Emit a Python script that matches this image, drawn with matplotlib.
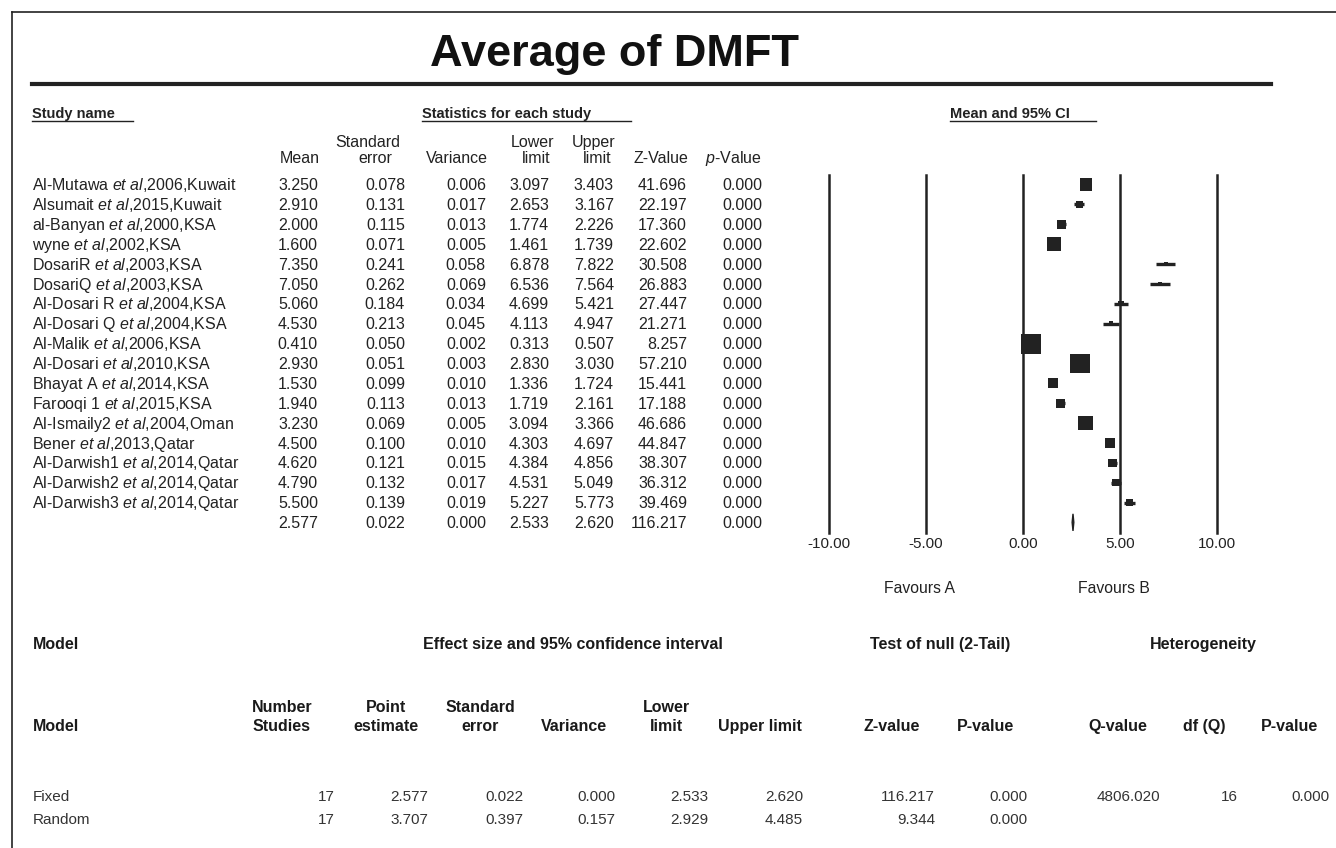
import matplotlib.pyplot as plt
from matplotlib.patches import Polygon

plt.rcParams['font.family'] = ['Liberation Sans', 'DejaVu Sans']
plt.rcParams['mathtext.fontset'] = 'custom'
plt.rcParams['mathtext.rm'] = 'Liberation Sans'
plt.rcParams['mathtext.it'] = 'Liberation Sans:italic'

# study-level data
studies = [
    ("Al-Mutawa", ",2006,Kuwait"), ("Alsumait", ",2015,Kuwait"), ("al-Banyan", ",2000,KSA"),
    ("wyne", ",2002,KSA"), ("DosariR", ",2003,KSA"), ("DosariQ", ",2003,KSA"),
    ("Al-Dosari R", ",2004,KSA"), ("Al-Dosari Q", ",2004,KSA"), ("Al-Malik", ",2006,KSA"),
    ("Al-Dosari", ",2010,KSA"), ("Bhayat A", ",2014,KSA"), ("Farooqi 1", ",2015,KSA"),
    ("Al-Ismaily2", ",2004,Oman"), ("Bener", ",2013,Qatar"), ("Al-Darwish1", ",2014,Qatar"),
    ("Al-Darwish2", ",2014,Qatar"), ("Al-Darwish3", ",2014,Qatar"),
]
means = [3.250, 2.910, 2.000, 1.600, 7.350, 7.050, 5.060, 4.530, 0.410, 2.930, 1.530, 1.940,
         3.230, 4.500, 4.620, 4.790, 5.500]
std_err = [0.078, 0.131, 0.115, 0.071, 0.241, 0.262, 0.184, 0.213, 0.050, 0.051, 0.099, 0.113,
           0.069, 0.100, 0.121, 0.132, 0.139]
variance = [0.006, 0.017, 0.013, 0.005, 0.058, 0.069, 0.034, 0.045, 0.002, 0.003, 0.010, 0.013,
            0.005, 0.010, 0.015, 0.017, 0.019]
lower = [3.097, 2.653, 1.774, 1.461, 6.878, 6.536, 4.699, 4.113, 0.313, 2.830, 1.336, 1.719,
         3.094, 4.303, 4.384, 4.531, 5.227]
upper = [3.403, 3.167, 2.226, 1.739, 7.822, 7.564, 5.421, 4.947, 0.507, 3.030, 1.724, 2.161,
         3.366, 4.697, 4.856, 5.049, 5.773]
z_values = [41.696, 22.197, 17.360, 22.602, 30.508, 26.883, 27.447, 21.271, 8.257, 57.210,
            15.441, 17.188, 46.686, 44.847, 38.307, 36.312, 39.469]
p_values = [0.000] * 17

# pooled (fixed) estimate
pooled = dict(mean=2.577, se=0.022, var=0.000, lo=2.533, hi=2.620, z=116.217, p=0.000)

# model summary table
models = ["Fixed", "Random"]
model_n = [17, 17]
model_point = [2.577, 3.707]
model_se = [0.022, 0.397]
model_var = [0.000, 0.157]
model_lo = [2.533, 2.929]
model_hi = [2.620, 4.485]
model_z = [116.217, 9.344]
model_p = [0.000, 0.000]
het_q, het_df, het_p = 4806.020, 16, 0.000

ticks = [-10, -5, 0, 5, 10]

W, H = 1336, 848
fig = plt.figure(figsize=(W / 100, H / 100), dpi=100)
ink = '#222222'

# pixel-space overlay for text and rules
tx = fig.add_axes([0, 0, 1, 1])
tx.set_xlim(0, W)
tx.set_ylim(H, 0)
tx.axis('off')


def put(x, y, s, fontsize, **kw):
    # y is the visual middle of the capitals; draw on the baseline below it
    off = 0.716 * fontsize * 100 / 72 / 2
    tx.text(x, y + off, s, fontsize=fontsize, va='baseline', **kw)


# frame
tx.plot([12, W], [12, 12], color=ink, lw=1.2)
tx.plot([12, 12], [12, H], color=ink, lw=1.2)

put(614, 50, "Average of DMFT", 32.5, fontweight='bold', ha='center', color='#111111')
tx.plot([32, 1271], [84, 84], color=ink, lw=3)

fs = 11.5
hdr = dict(fontweight='bold', ha='left', color=ink)
put(32, 113, "Study name", 10.5, **hdr)
tx.plot([32, 133], [121, 121], color=ink, lw=1)
put(422, 113, "Statistics for each study", 10.5, **hdr)
tx.plot([422, 631], [121, 121], color=ink, lw=1)
put(950, 113, "Mean and 95% CI", 10.5, **hdr)
tx.plot([950, 1096], [121, 121], color=ink, lw=1)

# column headers
y1, y2 = 141, 157
put(320, y2, "Mean", fs, ha='right', color=ink)
put(368, y1, "Standard", fs, ha='center', color=ink)
put(375, y2, "error", fs, ha='center', color=ink)
put(488, y2, "Variance", fs, ha='right', color=ink)
put(533, y1, "Lower", fs, ha='center', color=ink)
put(536, y2, "limit", fs, ha='center', color=ink)
put(594, y1, "Upper", fs, ha='center', color=ink)
put(597, y2, "limit", fs, ha='center', color=ink)
put(688, y2, "Z-Value", fs, ha='right', color=ink)
put(762, y2, r"$\it{p}$" + "-Value", fs, ha='right', color=ink)

col_right = [318, 405, 486, 549, 614, 687, 762]
row0, dy = 184.5, 19.875
for i, (name, rest) in enumerate(studies):
    y = row0 + i * dy
    put(32, y, name + r" $\it{et\ al}$" + rest, fs, ha='left', color=ink)
    vals = [means[i], std_err[i], variance[i], lower[i], upper[i], z_values[i], p_values[i]]
    for xr, v in zip(col_right, vals):
        put(xr, y, f"{v:.3f}", fs, ha='right', color=ink)
y = row0 + len(studies) * dy
for xr, v in zip(col_right, [pooled['mean'], pooled['se'], pooled['var'], pooled['lo'],
                             pooled['hi'], pooled['z'], pooled['p']]):
    put(xr, y, f"{v:.3f}", fs, ha='right', color=ink)

# forest plot axes
px_l, px_r, px_t, px_b = 829, 1217, 175, 533
ax = fig.add_axes([px_l / W, 1 - px_b / H, (px_r - px_l) / W, (px_b - px_t) / H])
ax.set_xlim(ticks[0], ticks[-1])
ax.set_ylim((px_b - row0) / dy, (px_t - row0) / dy)
for s in ax.spines.values():
    s.set_visible(False)
ax.set_yticks([])
ax.set_xticks(ticks)
ax.set_xticklabels([f"{t:.2f}" for t in ticks], fontsize=11, color=ink)
ax.tick_params(axis='x', length=0, pad=3)
ax.patch.set_alpha(0)
for t in ticks:
    ax.axvline(t, color=ink, lw=1.8, clip_on=False)

rows = list(range(len(studies)))
ax.hlines(rows, lower, upper, color=ink, lw=2.4)
sizes = [(0.72 / se) ** 2 for se in std_err]
ax.scatter(means, rows, marker='s', s=sizes, color=ink, zorder=3, linewidths=0)
r = len(studies)
diamond = Polygon([(pooled['lo'], r), (pooled['mean'], r - 0.43), (pooled['hi'], r),
                   (pooled['mean'], r + 0.43)], closed=True, color=ink)
ax.add_patch(diamond)

put(920, 587, "Favours A", 11.3, ha='center', color=ink)
put(1114, 587, "Favours B", 11.3, ha='center', color=ink)

# model summary table
bh = dict(fontweight='bold', color='#1a1a1a')
bf = 11.5
put(33, 643, "Model", bf, ha='left', **bh)
put(573, 643, "Effect size and 95% confidence interval", bf, ha='center', **bh)
put(940, 643, "Test of null (2-Tail)", bf, ha='center', **bh)
put(1203, 643, "Heterogeneity", bf, ha='center', **bh)

put(33, 725, "Model", bf, ha='left', **bh)
two_line = [(282, "Number", "Studies"), (386, "Point", "estimate"), (480, "Standard", "error"),
            (666, "Lower", "limit")]
for xc, a, b in two_line:
    put(xc, 706, a, bf, ha='center', **bh)
    put(xc, 725, b, bf, ha='center', **bh)
for xc, lab in [(574, "Variance"), (760, "Upper limit"), (892, "Z-value"), (985, "P-value"),
                (1118, "Q-value"), (1204, "df (Q)"), (1289, "P-value")]:
    put(xc, 725, lab, bf, ha='center', **bh)

mf = 11
mc = '#333333'
mcols = [335, 428, 523, 615, 708, 803, 935, 1028]
for j, m in enumerate(models):
    y = 796 + j * 23
    put(33, y, m, mf, ha='left', color=mc)
    vals = [f"{model_n[j]}", f"{model_point[j]:.3f}", f"{model_se[j]:.3f}", f"{model_var[j]:.3f}",
            f"{model_lo[j]:.3f}", f"{model_hi[j]:.3f}", f"{model_z[j]:.3f}", f"{model_p[j]:.3f}"]
    for xr, v in zip(mcols, vals):
        put(xr, y, v, mf, ha='right', color=mc)
put(1160, 796, f"{het_q:.3f}", mf, ha='right', color=mc)
put(1238, 796, f"{het_df}", mf, ha='right', color=mc)
put(1330, 796, f"{het_p:.3f}", mf, ha='right', color=mc)

fig.savefig("out.png", dpi=100)
